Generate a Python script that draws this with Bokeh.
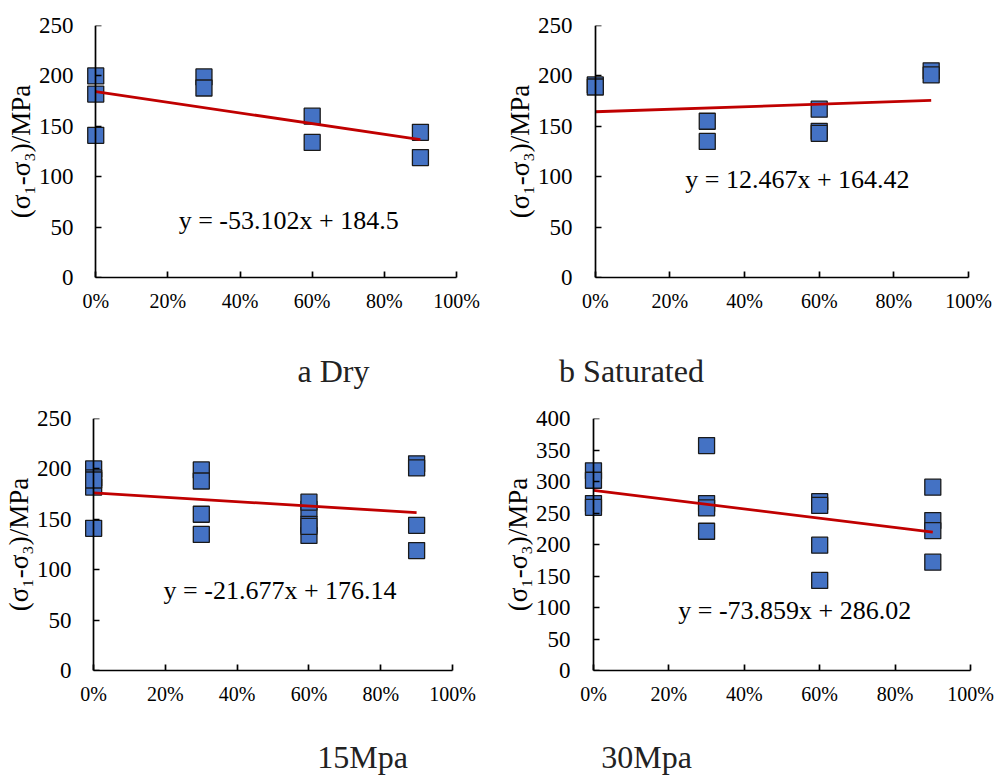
from bokeh.plotting import figure
from bokeh.layouts import column, row
from bokeh.models import Range1d, FixedTicker, LinearAxis
from bokeh.core.properties import value
from bokeh.embed import file_html
from bokeh.resources import INLINE

# ---------------- data ----------------
pct_ticks = [0, 0.2, 0.4, 0.6, 0.8, 1.0]
pct_labels = ["0%", "20%", "40%", "60%", "80%", "100%"]

dry_x = [0, 0, 0, 0.3, 0.3, 0.6, 0.6, 0.9, 0.9]
dry_y = [200, 182, 141, 199, 188, 160, 134, 144, 119]

sat_x = [0, 0, 0.3, 0.3, 0.6, 0.6, 0.6, 0.9, 0.9]
sat_y = [191, 189, 155, 135, 167, 145, 143, 205, 201]

mpa15_x = [0, 0, 0, 0.3, 0.3, 0.6, 0.6, 0.9, 0.9,
           0, 0, 0.3, 0.3, 0.6, 0.6, 0.6, 0.9, 0.9]
mpa15_y = [200, 182, 141, 199, 188, 160, 134, 144, 119,
           191, 189, 155, 135, 167, 145, 143, 205, 201]

mpa30_x = [0, 0, 0, 0, 0.3, 0.3, 0.3, 0.3, 0.6, 0.6, 0.6, 0.6, 0.9, 0.9, 0.9, 0.9]
mpa30_y = [317, 302, 265, 259, 357, 265, 258, 221, 268, 262, 199, 143, 291, 238, 222, 172]

slopes = [-53.102, 12.467, -21.677, -73.859]
intercepts = [184.5, 164.42, 176.14, 286.02]
fit_x = [0, 0.9]
equations = ["y = -53.102x + 184.5", "y = 12.467x + 164.42",
             "y = -21.677x + 176.14", "y = -73.859x + 286.02"]
y_ticks_250 = [0, 50, 100, 150, 200, 250]
y_ticks_400 = [0, 50, 100, 150, 200, 250, 300, 350, 400]
captions_top = ["a Dry", "b Saturated"]
captions_bottom = ["15Mpa", "30Mpa"]
y_label = "(σ₁-σ₃)/MPa"

SERIF = "Liberation Serif"
XMIN = -0.045


def panel(xs, ys, k, ymax, yticks, eq_pos, width, height, left, right, top, bottom):
    p = figure(width=width, height=height, x_range=Range1d(XMIN, 1.0),
               y_range=Range1d(0, ymax), toolbar_location=None,
               output_backend="svg", y_axis_location=None,
               min_border_left=left, min_border_right=right,
               min_border_top=top, min_border_bottom=bottom)
    p.outline_line_color = None
    p.grid.visible = False
    p.background_fill_color = "white"
    p.border_fill_color = "white"

    xa = p.xaxis[0]
    xa.bounds = (0, 1)
    xa.ticker = FixedTicker(ticks=pct_ticks)
    xa.major_label_overrides = {t: l for t, l in zip(pct_ticks, pct_labels)}
    xa.minor_tick_line_color = None
    xa.major_tick_in = 6
    xa.major_tick_out = 0
    xa.major_label_standoff = 12
    xa.axis_line_width = 1.7
    xa.major_tick_line_width = 1.7
    xa.axis_line_color = "black"
    xa.major_tick_line_color = "black"
    xa.major_label_text_font = SERIF
    xa.major_label_text_font_size = "20px"
    xa.major_label_text_color = "black"

    # labels and title of the value axis (left panel)
    lab = LinearAxis(ticker=FixedTicker(ticks=yticks))
    lab.axis_line_color = None
    lab.major_tick_line_color = None
    lab.minor_tick_line_color = None
    lab.major_tick_in = 0
    lab.major_tick_out = 0
    lab.major_label_standoff = 6
    lab.major_label_text_font = SERIF
    lab.major_label_text_font_size = "23px"
    lab.major_label_text_color = "black"
    lab.axis_label = y_label
    lab.axis_label_text_font = SERIF
    lab.axis_label_text_font_size = "27px"
    lab.axis_label_text_font_style = "normal"
    lab.axis_label_text_color = "black"
    lab.axis_label_standoff = 0
    p.add_layout(lab, "left")

    # value axis line and ticks sitting at x = 0
    ya = LinearAxis(ticker=FixedTicker(ticks=yticks), fixed_location=0)
    ya.bounds = (0, ymax)
    ya.minor_tick_line_color = None
    ya.major_tick_in = 6
    ya.major_tick_out = 0
    ya.axis_line_width = 1.7
    ya.major_tick_line_width = 1.7
    ya.axis_line_color = "black"
    ya.major_tick_line_color = "black"
    ya.major_label_text_color = None
    p.add_layout(ya, "left")

    p.scatter(xs, ys, marker="square", size=16, fill_color="#4472C4",
              line_color="#1a1a1a", line_width=1.3)
    fy = [intercepts[k] + slopes[k] * x for x in fit_x]
    p.line(fit_x, fy, line_color="#C00000", line_width=2.8)
    p.text(x=[eq_pos[0]], y=[eq_pos[1]], text=[equations[k]], text_align="left",
           text_baseline="middle", text_font=value(SERIF), text_font_size="26px",
           text_color="black")
    return p


def caption(w, h, xs, texts, mid):
    c = figure(width=w, height=h, x_range=Range1d(0, w), y_range=Range1d(h, 0),
               toolbar_location=None, output_backend="svg", min_border=0,
               x_axis_type=None, y_axis_type=None, title=None)
    c.outline_line_color = None
    c.text(x=xs, y=[mid] * len(xs), text=texts, text_align="center",
           text_baseline="middle", text_font=value(SERIF),
           text_font_size="32px", text_color="#222222")
    return c


pa = panel(dry_x, dry_y, 0, 250, y_ticks_250, (0.23, 57), 498, 330, 79, 42, 25, 53)
pb = panel(sat_x, sat_y, 1, 250, y_ticks_250, (0.241, 97), 498, 330, 80, 28, 25, 53)
pc = panel(mpa15_x, mpa15_y, 2, 250, y_ticks_250, (0.195, 79), 498, 316, 76, 46, 22, 42)
pd = panel(mpa30_x, mpa30_y, 3, 400, y_ticks_400, (0.225, 95), 498, 316, 78, 26, 22, 42)

cap1 = caption(996, 66, [333, 631], captions_top, 40)
cap2 = caption(996, 64, [362, 646], captions_bottom, 44)

layout = column(row(pa, pb), cap1, row(pc, pd), cap2)
open("out.html", "w").write(file_html(layout, INLINE))
